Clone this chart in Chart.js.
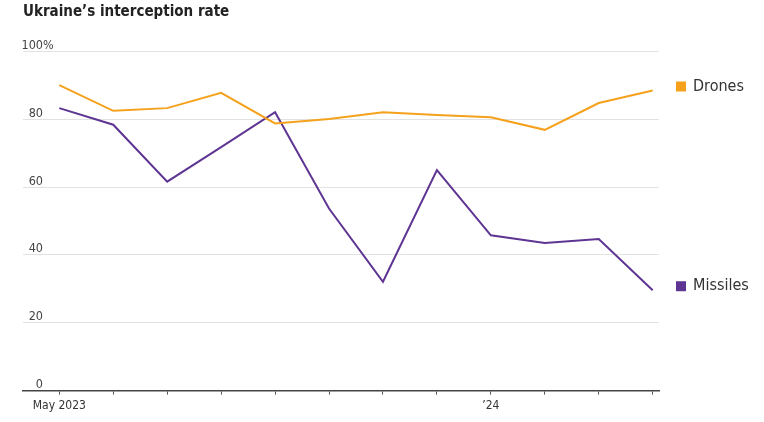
<!DOCTYPE html>
<html>
<head>
<meta charset="utf-8">
<script src="https://cdn.jsdelivr.net/npm/chart.js@4"></script>
<style>
  html, body { margin: 0; padding: 0; background: #fff; }
  #wrap { width: 764px; height: 422px; }
</style>
</head>
<body>
<div id="wrap"><canvas id="chart"></canvas></div>
<script>
const months = ['May 2023', 'Jun', 'Jul', 'Aug', 'Sep', 'Oct', 'Nov', 'Dec', '\u201924', 'Feb', 'Mar', 'Apr'];
const shownLabels = {0: 'May 2023', 8: '\u201924'};
const drones = [90.1, 82.5, 83.3, 87.8, 78.8, 80.1, 82.1, 81.3, 80.6, 76.9, 84.8, 88.5];
const missiles = [83.3, 78.4, 61.6, 71.8, 82.1, 53.7, 32.1, 65.0, 45.8, 43.5, 44.7, 29.6];
const yTicks = [0, 20, 40, 60, 80, 100];

const orange = '#f5a11c';
const purple = '#5e3592';
const font = '"DejaVu Sans Condensed", "Liberation Sans Narrow", Lato, sans-serif';

const toPoints = vals => vals.map((v, i) => ({x: i, y: v}));

// title, y labels and end-of-line legend
const extras = {
    id: 'extras',
    afterDraw(chart) {
        const ctx = chart.ctx;
        const y = chart.scales.y;
        ctx.save();
        ctx.fillStyle = '#222';
        ctx.font = 'bold 15px ' + font;
        ctx.textBaseline = 'alphabetic';
        ctx.textAlign = 'left';
        ctx.fillText('Ukraine\u2019s interception rate', 23, 16);

        ctx.font = '12.5px ' + font;
        ctx.fillStyle = '#444';
        yTicks.forEach(t => {
            const py = y.getPixelForValue(t) - 2.5;
            ctx.textAlign = 'right';
            ctx.fillText(String(t), 43, py);
            if (t === 100) {
                ctx.textAlign = 'left';
                ctx.fillText('%', 43, py);
            }
        });

        ctx.font = '16px ' + font;
        ctx.textBaseline = 'middle';
        ctx.textAlign = 'left';
        chart.data.datasets.forEach((ds, i) => {
            const meta = chart.getDatasetMeta(i);
            const last = meta.data[meta.data.length - 1];
            const cy = last.y - 4;
            ctx.fillStyle = ds.borderColor;
            ctx.fillRect(676, cy - 5, 10, 10);
            ctx.fillStyle = '#333';
            ctx.fillText(ds.label, 693, cy);
        });
        ctx.restore();
    }
};

new Chart(document.getElementById('chart'), {
    type: 'line',
    data: {
        datasets: [
            {label: 'Drones', data: toPoints(drones), borderColor: orange, borderWidth: 2, pointRadius: 0, tension: 0},
            {label: 'Missiles', data: toPoints(missiles), borderColor: purple, borderWidth: 2, pointRadius: 0, tension: 0},
        ],
    },
    options: {
        responsive: true,
        maintainAspectRatio: false,
        animation: false,
        layout: {padding: {left: 23, right: 105, top: 51.5, bottom: 5}},
        scales: {
            x: {
                type: 'linear',
                min: -0.673,
                max: 11.117,
                afterBuildTicks: axis => {
                    axis.ticks = months.map((m, i) => ({value: i}));
                },
                grid: {
                    drawOnChartArea: false,
                    drawTicks: true,
                    tickLength: 4,
                    color: '#555',
                    lineWidth: 1,
                },
                border: {display: true, color: '#444', width: 1.5},
                ticks: {
                    autoSkip: false,
                    maxRotation: 0,
                    padding: 4,
                    color: '#333',
                    font: {family: font, size: 12},
                    callback: v => shownLabels[v] || '',
                },
            },
            y: {
                min: 0,
                max: 100,
                afterBuildTicks: axis => {
                    axis.ticks = yTicks.map(v => ({value: v}));
                },
                grid: {color: '#e2e2e2', lineWidth: 1, drawTicks: false},
                border: {display: false},
                ticks: {display: false},
            },
        },
        plugins: {
            legend: {display: false},
            tooltip: {enabled: false},
        },
    },
    plugins: [extras],
});
</script>
</body>
</html>
